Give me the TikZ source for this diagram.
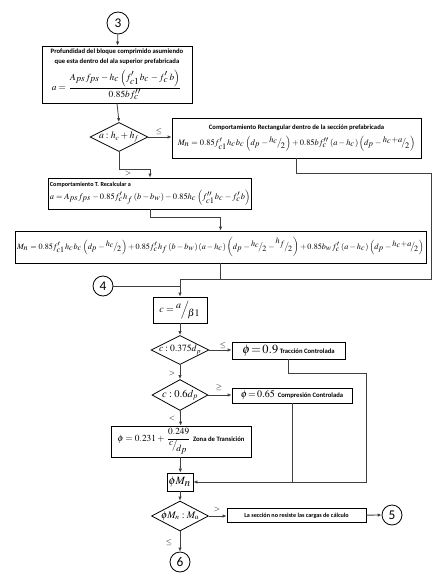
\documentclass[tikz,border=0pt]{standalone}
\usepackage{amsmath}
\usepackage{mathptmx}
\usepackage{fontspec}
\setmainfont{Liberation Serif}
\setsansfont{Carlito}
\usepackage{graphicx}
\usetikzlibrary{calc,arrows.meta,shapes.geometric}
\definecolor{lineGrey}{HTML}{404040}
\newcommand{\slfrac}[2]{{}^{#1}\!\!\big/\!{}_{#2}}
\newcommand{\fitw}[2]{\resizebox{#1}{!}{$#2$}}
\tikzset{
  procbox/.style 2 args={rectangle, draw=black, line width=0.6pt, minimum width=#1, minimum height=#2, inner sep=1pt, align=center, font=\sffamily\bfseries\fontsize{5}{7.5}\selectfont},
  decbox/.style 2 args={diamond, draw=black, line width=0.6pt, minimum width=#1, minimum height=#2, inner sep=0pt, shape aspect=2},
  connector/.style={circle, draw=black, line width=0.6pt, minimum size=#1, inner sep=0pt, font=\sffamily\fontsize{10}{10}\selectfont},
  conn/.style={draw=lineGrey, line width=0.6pt},
  flow/.style={conn, -{Latex[length=3pt,width=2.6pt]}},
  condlabel/.style={font=\fontsize{6}{6}\selectfont, inner sep=0.5pt},
}

\begin{document}
\begin{tikzpicture}[x=0.75pt,y=-0.75pt]
  \useasboundingbox (0,0) rectangle (443,582);

  % --- upper part: depth of the compression block ---
  \node[connector=16.5pt] (c3) at (118,23) {3};
  \node[procbox={112.5pt}{42.75pt}] (depth) at (117,74.5) {Profundidad del bloque comprimido asumiendo\\que esta dentro del ala superior prefabricada\\[2.5pt]\fitw{97.5pt}{a=\dfrac{A_{ps}f_{ps}-h_c\left(f'_{c1}b_c-f'_c\,b\right)}{0.85bf''_c}}};
  \node[decbox={43.5pt}{21.75pt}] (dflange) at (119,137) {\makebox[0pt]{\fitw{30pt}{a:h_c+h_f}}};
  \node[procbox={186.75pt}{30pt}] (rect) at (296.5,138) {Comportamiento Rectangular dentro de la sección prefabricada\\[2.5pt]\fitw{178pt}{M_n=0.85f'_{c1}h_cb_c\left(d_p-\slfrac{h_c}{2}\right)+0.85bf''_c\left(a-h_c\right)\left(d_p-\slfrac{h_c+a}{2}\right)}};
  \node[procbox={151.5pt}{23.25pt}, align=left] (tsec) at (150,193.5) {{\fontsize{4.6}{6}\selectfont Comportamiento T. Recalcular a}\\[1pt]\fitw{150pt}{a=A_{ps}f_{ps}-0.85f'_ch_f\left(b-b_w\right)-0.85h_c\left(f''_{c1}b_c-f'_cb\right)}};
  \node[procbox={308.25pt}{24pt}] (mnt) at (220.5,247) {\fitw{305pt}{M_n=0.85f'_{c1}h_cb_c\left(d_p-\slfrac{h_c}{2}\right)+0.85f'_ch_f\left(b-b_w\right)\left(a-h_c\right)\left(d_p-\slfrac{h_c}{2}-\slfrac{h_f}{2}\right)+0.85b_wf'_c\left(a-h_c\right)\left(d_p-\slfrac{h_c+a}{2}\right)}};

  % --- lower part: strength reduction factor ---
  \node[connector=15pt] (c4) at (103,286) {4};
  \node[procbox={40.5pt}{19.5pt}] (cdepth) at (180,310) {\fitw{31pt}{c={}^{a}\!\Big/\!{}_{\beta1}}};
  \node[decbox={43.5pt}{21.75pt}] (dten) at (180,350) {\makebox[0pt]{\fitw{31.5pt}{c:0.375d_p}}};
  \node[procbox={84.75pt}{12.75pt}] (ften) at (288.5,350.5) {\fitw{27pt}{\phi\!=\!0.9}\ Tracción Controlada};
  \node[decbox={42pt}{23.25pt}] (dcomp) at (180,395) {\makebox[0pt]{\fitw{27pt}{c:0.6d_p}}};
  \node[procbox={90pt}{11.25pt}] (fcomp) at (292,395.5) {\fitw{25.5pt}{\phi\!=\!0.65}\ \ Compresión Controlada};
  \node[procbox={105pt}{23.25pt}] (ftrans) at (181,441.5) {\fitw{55.5pt}{\phi=0.231+\dfrac{0.249}{\slfrac{c}{d_p}}}\ Zona de Transición};
  \node[procbox={19.5pt}{13.5pt}] (phim) at (180,482) {\fitw{17pt}{\phi M_n}};
  \node[decbox={42.75pt}{22.5pt}] (dres) at (180,516) {\makebox[0pt]{\fitw{28.5pt}{\phi M_n:M_u}}};
  \node[procbox={104.25pt}{10.5pt}, font=\sffamily\bfseries\fontsize{4.6}{5}\selectfont] (fail) at (296.5,515.5) {La sección no resiste las cargas de cálculo};
  \node[connector=15pt] (c5) at (392,515) {5};
  \node[connector=15pt] (c6) at (180,562) {6};

  % conditions
  \node[condlabel] (le1) at (159,131) {$\le$};
  \node[condlabel] (gt1) at (128,173) {$>$};
  \node[condlabel] (le2) at (223,345) {$\le$};
  \node[condlabel] (gt2) at (172,373) {$>$};
  \node[condlabel] (ge3) at (219,387) {$\ge$};
  \node[condlabel] (lt3) at (172,418) {$<$};
  \node[condlabel] (gt4) at (217,509) {$>$};
  \node[condlabel] (le4) at (169,542) {$\le$};

  % connectors
  \draw[flow] (c3) -- (depth);
  \draw[flow] (depth.south) -- (dflange.north);
  \draw[flow] (dflange.east) -- (rect.west |- dflange.east);
  \draw[flow] (dflange.south) -- ++(0,17) -| (tsec.north);
  \draw[flow] (tsec.south) -- ++(0,8) -| (mnt.north);
  \draw[flow] (rect.south) -- ++(0,15) -- ++(135,0) |- ++(0,106) -| (cdepth.north);
  \draw[conn] (mnt.south) -- ++(0,16);
  \draw[conn] (c4.east) -- (c4 -| cdepth);
  \draw[flow] (cdepth) -- (dten);
  \draw[flow] (dten.east) -- (ften.west |- dten.east);
  \draw[flow] (dten) -- (dcomp);
  \draw[flow] (dcomp.east) -- (fcomp.west |- dcomp.east);
  \draw[flow] (dcomp) -- (ftrans);
  \draw[flow] (ftrans) -- (phim);
  \draw[flow] (ften.south) -- ++(0,14) -- ++(78,0) |- (phim.east);
  \draw[conn] (fcomp.south) -- (fcomp.south |- phim.east);
  \draw[flow] (phim) -- (dres);
  \draw[flow] (dres.east) -- (fail.west |- dres.east);
  \draw[flow] (fail) -- (c5);
  \draw[flow] (dres) -- (c6);
\end{tikzpicture}
\end{document}
